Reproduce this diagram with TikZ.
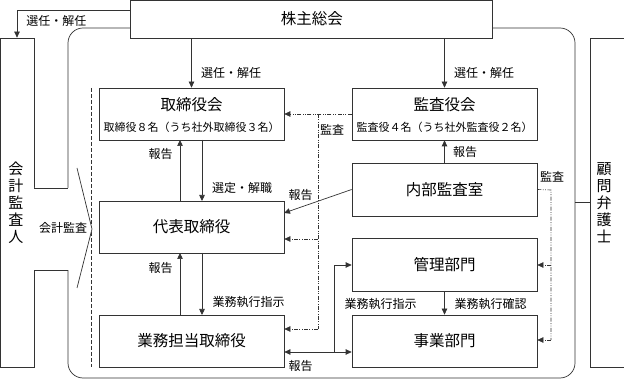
\documentclass[tikz,border=0pt]{standalone}
\usepackage{fontspec}
\setmainfont{Noto Sans CJK JP}
\usetikzlibrary{arrows.meta}
\begin{document}
\begin{tikzpicture}[x=1pt,y=-1pt,
  line width=0.7pt, draw={black!80},
  box/.style={draw, fill=white, rectangle, inner sep=0pt, minimum width=185pt, minimum height=52pt},
  tall/.style={draw, fill=white, rectangle, inner sep=0pt, minimum width=34pt, minimum height=329pt},
  lbl/.style={font=\fontsize{12}{12}\selectfont, inner sep=0pt},
  ttl/.style={font=\fontsize{15.5}{16}\selectfont, inner sep=0pt},
  sub/.style={font=\fontsize{11}{11}\selectfont, inner sep=0pt},
  vtxt/.style={font=\fontsize{15}{17}\selectfont, inner sep=0pt, align=center},
  arr/.style={-{Triangle[length=6pt,width=5.5pt]}},
  darr/.style={{Triangle[length=6pt,width=5.5pt]}-{Triangle[length=6pt,width=5.5pt]}},
  dd/.style={dash pattern=on 4pt off 1.5pt on 0.8pt off 1.5pt on 0.8pt off 1.5pt, line width=0.6pt},
  dsh/.style={dash pattern=on 4pt off 2pt, line width=0.7pt},
]
\useasboundingbox (0,0) rectangle (624,379);

% outer rounded frame
\draw[rounded corners=15pt] (68,28) rectangle (575,378);

% top box
\node[draw, fill=white, inner sep=0pt, minimum width=362pt, minimum height=38pt] (kabu) at (311.8,19.3) {};
\node[ttl] (kabut) at (311.8,19) {株主総会};

% side boxes
\node[tall] (kaikei) at (17,202.5) {};
\node[vtxt] (kaikeit) at (16,203) {会\\計\\監\\査\\人};
\node[tall, minimum width=40pt] (komon) at (610,202.5) {};
\node[vtxt] (komont) at (604,203) {顧\\問\\弁\\護\\士};

% main boxes
\node[box] (tori) at (191.5,114) {};
\node[ttl] (torit) at (191.5,104.5) {取締役会};
\node[sub] (toris) at (191.5,127.5) {取締役８名（うち社外取締役３名）};

\node[box] (kansa) at (444.5,114) {};
\node[ttl] (kansat) at (444.5,104.5) {監査役会};
\node[sub] (kansas) at (444.5,127.5) {監査役４名（うち社外監査役２名）};

\node[box] (daihyo) at (191.5,227) {};
\node[ttl] (daihyot) at (191.5,227) {代表取締役};

\node[box] (gyomu) at (191.5,341) {};
\node[ttl] (gyomut) at (191.5,341) {業務担当取締役};

\node[box, minimum height=53pt] (naibu) at (444.5,189.5) {};
\node[ttl] (naibut) at (444.5,189.5) {内部監査室};

\node[box, minimum height=53pt] (kanri) at (444.5,264.5) {};
\node[ttl] (kanrit) at (444.5,264.5) {管理部門};

\node[box] (jigyo) at (444.5,341) {};
\node[ttl] (jigyot) at (444.5,341) {事業部門};

% dashed line left of board boxes
\coordinate (dtop) at (91,88);
\coordinate (dbot) at (91,367);
\draw[dsh] (dtop) -- (dbot);

% block arrow from 会計監査人
\fill[white] (34,188) -- (77,188) -- (77,168) -- (92,229) -- (77,288) -- (77,270) -- (34,270) -- cycle;
\draw (34,188) -- (68,188);
\draw (34,270) -- (68,270);
\draw[line join=miter] (77,168) -- (92,229) -- (77,288);
\node[lbl] (l_kaikei) at (63,228) {会計監査};

% connection to 顧問弁護士
\draw (575,202.5) -- (komon.west);

% 株主総会 -> 会計監査人
\draw[arr] ([yshift=9pt]kabu.west) -| (kaikei.north);
\node[lbl] (l1) at (56.5,21) {選任・解任};

% 株主総会 -> 取締役会 / 監査役会
\draw[arr] (kabu.south -| tori.north) -- (tori.north);
\node[lbl] (l2) at (231,73) {選任・解任};
\draw[arr] (kabu.south -| kansa.north) -- (kansa.north);
\node[lbl] (l3) at (484,72.5) {選任・解任};

% 取締役会 <-> 代表取締役
\draw[arr] (180,201) -- (180,140);
\coordinate (a1s) at (180,201);
\draw[arr] (202,140) -- (202,201);
\node[lbl] (l4) at (160.5,154) {報告};
\node[lbl] (l5) at (242,188) {選定・解職};

% 代表取締役 <-> 業務担当取締役
\draw[arr] (180,315) -- (180,253);
\draw[arr] (202,253) -- (202,315);
\node[lbl] (l6) at (160.5,268) {報告};
\node[lbl] (l7) at (248.5,302) {業務執行指示};

% 監査役会 audit (dash-dot)
\coordinate (kb) at (318,114);
\coordinate (kd) at (318,239);
\coordinate (kg) at (318,329);
\draw[dd, arr] (kansa.west) -- (tori.east);
\draw[dd] (kb) -- (kg);
\draw[dd, arr] (kd) -- (kd -| daihyo.east);
\draw[dd, arr] (kg) -- (kg -| gyomu.east);
\node[lbl] (l8) at (332,129.5) {監査};

% 内部監査室 -> 監査役会
\draw[arr] (naibu.north) -- (kansa.south);
\node[lbl] (l9) at (465,152) {報告};

% 内部監査室 -> 代表取締役
\draw[arr] (naibu.west) -- (284,213);
\node[lbl] (l10) at (300.5,195) {報告};

% 内部監査室 audit right
\coordinate (r0) at (551,190);
\coordinate (r1) at (551,265);
\coordinate (r2) at (551,340);
\draw[dd] (naibu.east) -- (r0) -- (r2);
\draw[dd, arr] (r1) -- (r1 -| kanri.east);
\draw[dd, arr] (r2) -- (r2 -| jigyo.east);
\node[lbl] (l11) at (552,177) {監査};

% 管理部門 -> 事業部門
\draw[arr] (kanri.south) -- (jigyo.north);
\node[lbl] (l12) at (380.5,304) {業務執行指示};
\node[lbl] (l13) at (490.5,304) {業務執行確認};

% 業務担当取締役 <-> 事業部門, -> 管理部門
\coordinate (b1) at (334,352);
\coordinate (b2) at (334,265);
\draw[darr] (gyomu.east |- b1) -- (jigyo.west |- b1);
\draw[arr] (b1) -- (b2) -- (b2 -| kanri.west);
\node[lbl] (l14) at (300.5,366) {報告};
\end{tikzpicture}
\end{document}
